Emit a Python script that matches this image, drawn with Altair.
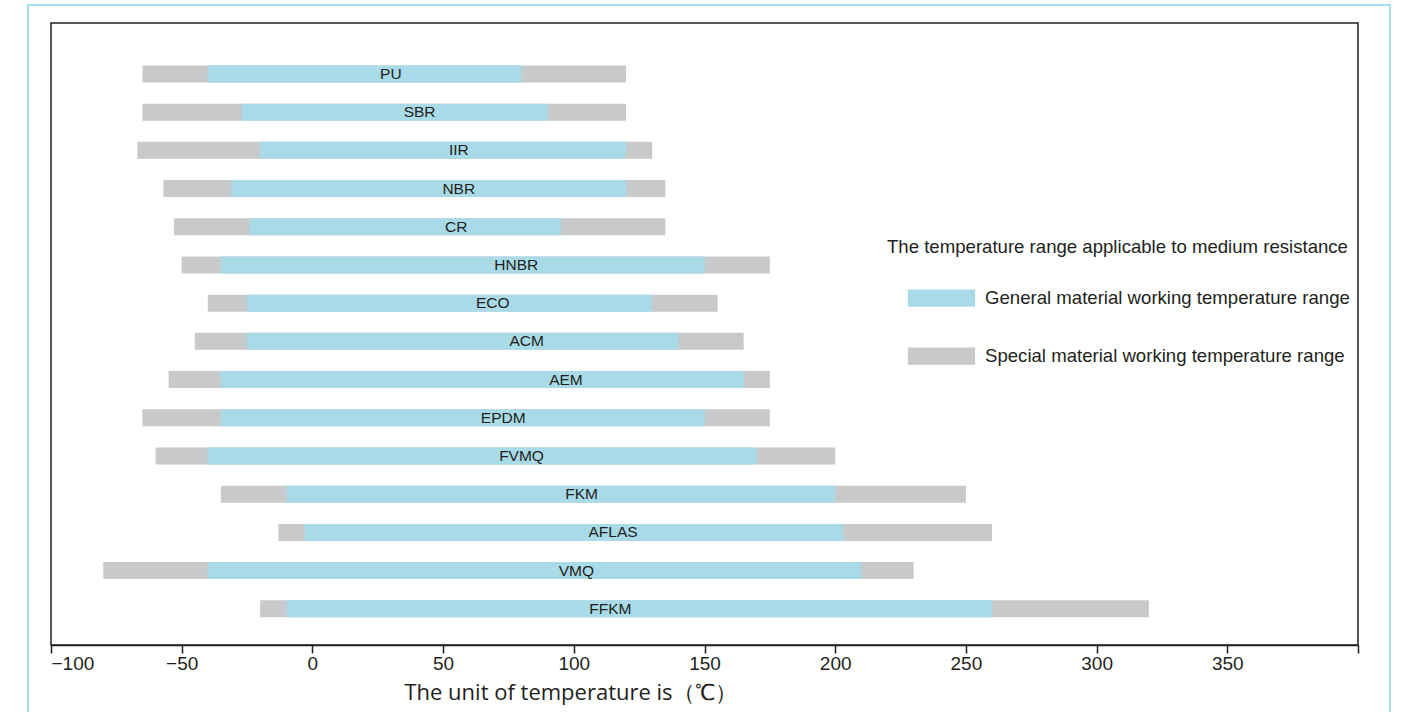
import altair as alt
import pandas as pd

# ---- data ----
materials = ["PU", "SBR", "IIR", "NBR", "CR", "HNBR", "ECO", "ACM", "AEM",
             "EPDM", "FVMQ", "FKM", "AFLAS", "VMQ", "FFKM"]
special_low = [-65, -65, -67, -57, -53, -50, -40, -45, -55, -65, -60, -35, -13, -80, -20]
special_high = [120, 120, 130, 135, 135, 175, 155, 165, 175, 175, 200, 250, 260, 230, 320]
general_low = [-40, -27, -20, -31, -24, -35, -25, -25, -35, -35, -40, -10, -3, -40, -10]
general_high = [80, 90, 120, 120, 95, 150, 130, 140, 165, 150, 170, 200, 203, 210, 260]
label_pos = [30, 41, 56, 56, 55, 78, 69, 82, 97, 73, 80, 103, 115, 101, 114]

x_ticks = [-100, -50, 0, 50, 100, 150, 200, 250, 300, 350, 400]

GENERAL = "General material working temperature range"
SPECIAL = "Special material working temperature range"

rows = []
for i, m in enumerate(materials):
    rows.append({"material": m, "type": SPECIAL, "lo": special_low[i], "hi": special_high[i]})
    rows.append({"material": m, "type": GENERAL, "lo": general_low[i], "hi": general_high[i]})
bars = pd.DataFrame(rows)
labels = pd.DataFrame({"material": materials, "pos": label_pos})

BLUE = "#a8dae7"
GRAY = "#c8c9cb"
DARK = "#231f20"

x_scale = alt.Scale(domain=[-100, 400], nice=False, zero=False)
y_scale = alt.Scale(domain=materials, paddingInner=0.555, paddingOuter=0.918, align=0.605)
color_scale = alt.Scale(domain=[GENERAL, SPECIAL], range=[BLUE, GRAY])

x_axis = alt.Axis(
    values=x_ticks,
    labelExpr="datum.value == 400 ? '' : datum.label",
    grid=False,
    domainColor=DARK, domainWidth=1.5,
    tickColor=DARK, tickWidth=1.5, tickSize=8,
    labelFont="Liberation Sans", labelFontSize=19, labelColor=DARK, labelPadding=1,
    title="The unit of temperature is（℃）",
    titleFont="Open Sans", titleFontSize=22, titleFontWeight="normal", titleColor=DARK,
    titleX=519, titleY=47, titleAlign="center", titleBaseline="middle",
)

legend = alt.Legend(
    orient="none", legendX=836, legendY=215,
    title="The temperature range applicable to medium resistance",
    titleFont="Liberation Sans", titleFontSize=18.6, titleFontWeight="normal", titleColor=DARK,
    titleLimit=700, titlePadding=13,
    labelFont="Liberation Sans", labelFontSize=18.6, labelColor=DARK, labelLimit=700,
    labelOffset=15,
    symbolType="M-1.18,-0.3H1.18V0.3H-1.18Z", symbolSize=3249, symbolOffset=26,
    symbolStrokeWidth=0, rowPadding=19, padding=0,
)

base_x = alt.X("lo:Q", scale=x_scale, axis=x_axis)
base_y = alt.Y("material:N", scale=y_scale, axis=None, sort=materials)

special = alt.Chart(bars).transform_filter(alt.datum.type == SPECIAL).mark_bar().encode(
    x=base_x, x2="hi:Q", y=base_y,
    color=alt.Color("type:N", scale=color_scale, legend=legend),
)
general = alt.Chart(bars).transform_filter(alt.datum.type == GENERAL).mark_bar().encode(
    x=base_x, x2="hi:Q", y=base_y,
    color=alt.Color("type:N", scale=color_scale, legend=legend),
)
text = alt.Chart(labels).mark_text(font="Liberation Sans", fontSize=15.5, color=DARK).encode(
    x=alt.X("pos:Q", scale=x_scale, axis=x_axis),
    y=alt.Y("material:N", scale=y_scale, axis=None, sort=materials),
    text="material:N",
)
outer = alt.Chart(pd.DataFrame({"k": [0]})).mark_rect(
    filled=False, stroke="#a9dcec", strokeWidth=2, fillOpacity=0
).encode(
    x=alt.value(-23), x2=alt.value(1339), y=alt.value(-18), y2=alt.value(720)
)

chart = alt.layer(outer, special, general, text).properties(
    width=1307, height=622,
    autosize=alt.AutoSizeParams(type="none"),
    padding={"left": 51, "top": 23, "right": 44, "bottom": 67},
    background="white",
).configure_view(stroke=DARK, strokeWidth=1.5)

chart.save("out.html", embed_options={"renderer": "svg", "actions": False})
